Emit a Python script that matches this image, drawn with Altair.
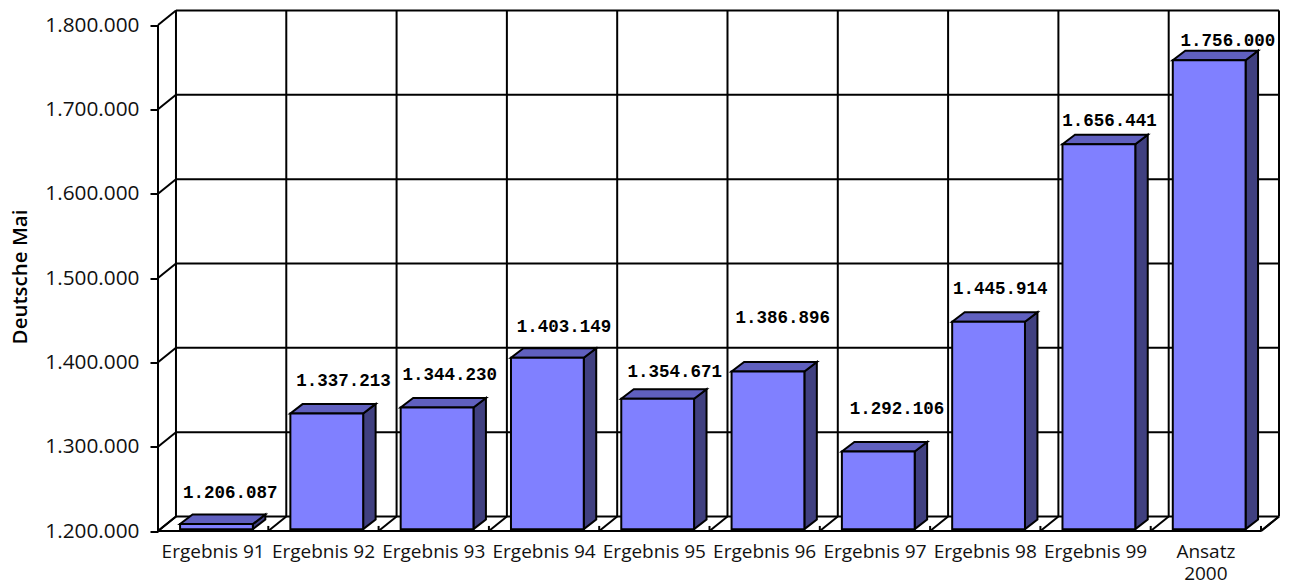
import altair as alt
import pandas as pd

categories = ["Ergebnis 91", "Ergebnis 92", "Ergebnis 93", "Ergebnis 94", "Ergebnis 95",
              "Ergebnis 96", "Ergebnis 97", "Ergebnis 98", "Ergebnis 99", "Ansatz\n2000"]
values = [1206087, 1337213, 1344230, 1403149, 1354671, 1386896, 1292106, 1445914, 1656441, 1756000]
value_ticks = [1200000, 1300000, 1400000, 1500000, 1600000, 1700000, 1800000]
label_offsets = [(17, -33), (20, -34), (16, -34), (20, -33), (20.5, -29),
                 (18, -55), (22, -44), (15, -35), (14, -25), (22, -21)]

BASE, TOP = 1200000, 1800000
N = len(categories)
WALL_DX, WALL_DY = 0.163, 17200      # depth of the chart box
BAR_DX, BAR_DY = 0.113, 11300        # depth of each column
BAR_LEFT, BAR_W = 0.2, 0.66
BAR_LIFT = 2200

X = alt.Scale(domain=[0, N + WALL_DX], nice=False, zero=False)
Y = alt.Scale(domain=[BASE, TOP + WALL_DY], nice=False, zero=False)
INK = "#000000"

# --- box frame -----------------------------------------------------------
segs = []
def seg(x0, y0, x1, y1):
    segs.append(dict(x0=x0, y0=y0, x1=x1, y1=y1))

for t in value_ticks:
    seg(0, t, WALL_DX, t + WALL_DY)                       # side wall diagonal
    seg(WALL_DX, t + WALL_DY, N + WALL_DX, t + WALL_DY)   # back wall line
seg(0, BASE, 0, TOP)
seg(0, BASE, N, BASE)
seg(N, BASE, N + WALL_DX, BASE + WALL_DY)
for i in range(N + 1):
    seg(i + WALL_DX, BASE + WALL_DY, i + WALL_DX, TOP + WALL_DY)
    seg(i, BASE, i + WALL_DX, BASE + WALL_DY)
    seg(i, BASE, i, BASE + 6000)
frame = pd.DataFrame(segs)

axis = alt.Axis(values=value_ticks, domain=False, grid=False, tickSize=8, tickWidth=2,
                tickColor=INK, labelFont="Open Sans", labelFontSize=20.8, labelColor="#111111",
                labelPadding=11, labelExpr="replace(format(datum.value, ',d'), /,/g, '.')",
                title="Deutsche Mai", titleFont="Open Sans", titleFontSize=20.5,
                titleFontWeight=600, titleColor=INK, titleAngle=270, titleX=-138, titleY=266,
                titleAlign="center", titleBaseline="middle")

frame_layer = alt.Chart(frame).mark_rule(stroke=INK, strokeWidth=2).encode(
    x=alt.X("x0:Q", scale=X, axis=None), x2="x1:Q",
    y=alt.Y("y0:Q", scale=Y, axis=axis), y2="y1:Q")

# --- columns -------------------------------------------------------------
front_rows, side_rows, top_rows = [], [], []
for i, v in enumerate(values):
    l = i + BAR_LEFT
    r = l + BAR_W
    t = v + BAR_LIFT
    b = BASE + BAR_LIFT
    front_rows.append(dict(l=l, r=r, t=t, b=b))
    side_rows += [dict(i=i, x=r, t=t, b=b), dict(i=i, x=r + BAR_DX, t=t + BAR_DY, b=b + BAR_DY)]
    top_rows += [dict(i=i, y=t, l=l, r=r), dict(i=i, y=t + BAR_DY, l=l + BAR_DX, r=r + BAR_DX)]

side = alt.Chart(pd.DataFrame(side_rows)).mark_area(
    orient="vertical", fill="#404080", stroke=INK, strokeWidth=2, opacity=1).encode(
    x=alt.X("x:Q", scale=X, axis=None),
    y=alt.Y("t:Q", scale=Y, axis=axis), y2="b:Q", detail="i:N")

top = alt.Chart(pd.DataFrame(top_rows)).mark_area(
    orient="horizontal", fill="#6060BF", stroke=INK, strokeWidth=2, opacity=1).encode(
    y=alt.Y("y:Q", scale=Y, axis=axis),
    x=alt.X("l:Q", scale=X, axis=None), x2="r:Q", detail="i:N")

front = alt.Chart(pd.DataFrame(front_rows)).mark_rect(
    fill="#8080FF", stroke=INK, strokeWidth=2).encode(
    x=alt.X("l:Q", scale=X, axis=None), x2="r:Q",
    y=alt.Y("b:Q", scale=Y, axis=axis), y2="t:Q")

# --- texts ---------------------------------------------------------------
labels = []
for i, (v, (dx, dy)) in enumerate(zip(values, label_offsets)):
    text = f"{v:,}".replace(",", ".")
    labels.append(alt.Chart(pd.DataFrame([dict(x=i + 0.5, y=v, text=text)])).mark_text(
        font="Liberation Mono", fontSize=17.5, fontWeight="bold", color=INK,
        align="center", baseline="middle", dx=dx, dy=dy).encode(
        x=alt.X("x:Q", scale=X, axis=None),
        y=alt.Y("y:Q", scale=Y, axis=axis), text="text:N"))

cat_df = pd.DataFrame({"x": [i + 0.5 for i in range(N)], "y": [BASE] * N, "text": categories})
cat_labels = alt.Chart(cat_df).mark_text(
    font="Open Sans", fontSize=19, color="#111111", align="center", baseline="middle",
    dy=21, lineBreak="\n", lineHeight=22).encode(
    x=alt.X("x:Q", scale=X, axis=None),
    y=alt.Y("y:Q", scale=Y, axis=axis), text="text:N")

chart = alt.layer(frame_layer, side, top, front, cat_labels, *labels).properties(
    width=1121, height=520.5, background="white",
    autosize=alt.AutoSizeParams(type="none"),
    padding={"left": 150, "top": 2.5, "right": 3, "bottom": 54},
).configure_view(stroke=None)

chart.save("out.html", embed_options={"renderer": "svg", "actions": False})
